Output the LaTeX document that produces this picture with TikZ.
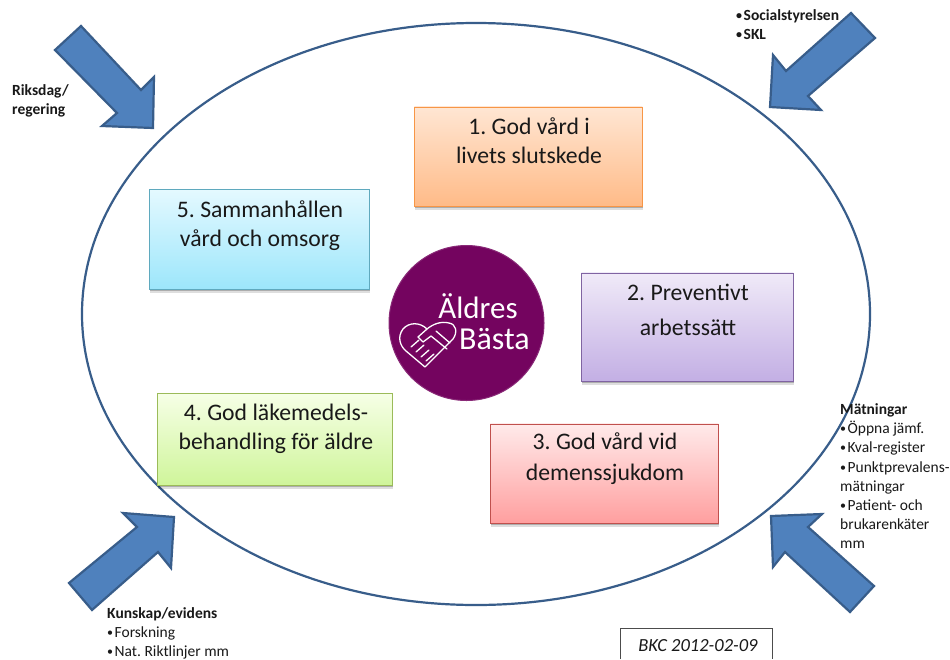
\documentclass[tikz,border=0pt]{standalone}
\usepackage{fontspec}
\setmainfont{Carlito}
\frenchspacing
\usetikzlibrary{shadows,shapes.geometric}
\definecolor{arrowblue}{HTML}{4F81BD}
\definecolor{arrowedge}{HTML}{385D8A}
\definecolor{plum}{HTML}{74045F}
\definecolor{orA}{HTML}{FFE6D3}\definecolor{orB}{HTML}{FFBB88}\definecolor{orE}{HTML}{F79646}
\definecolor{cyA}{HTML}{E4F9FF}\definecolor{cyB}{HTML}{9CE6FB}\definecolor{cyE}{HTML}{5FA9BE}
\definecolor{viA}{HTML}{F0EAF8}\definecolor{viB}{HTML}{C3AFE4}\definecolor{viE}{HTML}{8064A2}
\definecolor{grA}{HTML}{F6FFE6}\definecolor{grB}{HTML}{CFF59A}\definecolor{grE}{HTML}{9BBB59}
\definecolor{reA}{HTML}{FFEAEA}\definecolor{reB}{HTML}{FF9F9F}\definecolor{reE}{HTML}{C0504D}
\newcommand{\bu}{\raisebox{1pt}{\fontsize{12}{12}\selectfont •}\kern1.5pt}
\tikzset{
  bigarrow/.style={fill=arrowblue,draw=arrowedge,line width=2.2pt,line join=miter},
  card/.style={anchor=north west,inner sep=0pt,line width=.9pt,
     drop shadow={shadow xshift=0.3pt,shadow yshift=-4pt,opacity=.13,fill=black},
     drop shadow={shadow xshift=0.3pt,shadow yshift=-2pt,opacity=.22,fill=black}},
  cardtext/.style={align=center,font=\fontsize{23.7}{29}\selectfont,text=black!90},
  note/.style={anchor=north west,inner sep=0pt,align=left,text=black!90,font=\fontsize{15.5}{19.2}\selectfont},
  boldnote/.style={note,font=\bfseries\fontsize{15.5}{19.2}\selectfont},
  badgetext/.style={white},
  icon/.style={white,line width=1.3pt,line cap=round,line join=round},
}
\begin{document}
\begin{tikzpicture}[x=1pt,y=-1pt]
\useasboundingbox (0,0) rectangle (950,659);
\fill[white] (0,0) rectangle (950,659);
% ellipse
\node[draw=arrowedge,line width=2.2pt,ellipse,minimum width=788pt,minimum height=582pt,inner sep=0pt] (oval) at (476,314) {};
% cards
\node[card,minimum width=228pt,minimum height=99pt,draw=orE,top color=orA,bottom color=orB] (c1) at (414,106.5) {};
\node[cardtext] (t1) at (529,141) {1. God vård i\\livets slutskede};
\node[card,minimum width=220pt,minimum height=100pt,draw=cyE,top color=cyA,bottom color=cyB] (c5) at (149,189) {};
\node[cardtext] (t5) at (260,226) {5. Sammanhållen\\vård och omsorg};
\node[card,minimum width=212pt,minimum height=108pt,draw=viE,top color=viA,bottom color=viB] (c2) at (581,272.5) {};
\node[cardtext,font=\fontsize{23.7}{35}\selectfont] (t2) at (688,310) {2. Preventivt\\arbetssätt};
\node[card,minimum width=235pt,minimum height=92pt,draw=grE,top color=grA,bottom color=grB] (c4) at (157,393) {};
\node[cardtext] (t4) at (276,429) {4. God läkemedels-\\behandling för äldre};
\node[card,minimum width=228pt,minimum height=99pt,draw=reE,top color=reA,bottom color=reB] (c3) at (490,423.5) {};
\node[cardtext,font=\fontsize{23.7}{31}\selectfont] (t3) at (605,458.5) {3. God vård vid\\demenssjukdom};
% badge
\node[circle,fill=plum,draw=plum!85!white,line width=1pt,minimum size=155pt,inner sep=0pt] (badge) at (466.5,323) {};
\node[badgetext,font=\fontsize{31}{31}\selectfont] (b1) at (478,306) {Äldres};
\node[badgetext,font=\fontsize{32}{32}\selectfont] (b2) at (494.5,339) {Bästa};
% heart and handshake
\draw[icon] (427,329) .. controls (420,322) and (409,322) .. (403,329) .. controls (397,337) and (400,346) .. (406,351) -- (425,367) -- (453,339) .. controls (458,332) and (456,324) .. (449,323) .. controls (441,321) and (433,324) .. (427,329) -- cycle;
\draw[icon] (427,329) -- (418,337) -- (423,342) -- (431,336) -- (447,349);
\draw[icon] (411,347) -- (419,340) (416,352) -- (424,345) (421,357) -- (429,350) (426,361) -- (434,354);
\draw[icon] (436,331) -- (450,343);
% arrows
\draw[bigarrow] (81,26)--(55,50)--(117,113)--(102,126)--(153,128)--(154,77)--(141,90)--cycle;
\draw[bigarrow] (851,13)--(875,38)--(808,96)--(821,110)--(770,107)--(773,55)--(786,71)--cycle;
\draw[bigarrow] (69,583)--(92,610)--(158,552)--(171,568)--(174,517)--(123,513)--(137,527)--cycle;
\draw[bigarrow] (850,612)--(874,586)--(808,527)--(822,514)--(771,516)--(773,567)--(785,552)--cycle;
% notes
\node[boldnote] (n1) at (12,84.5) {Riksdag/\\regering};
\node[boldnote] (n2) at (736,9) {\bu Socialstyrelsen\\\bu SKL};
\node[note] (n3) at (840,403.5) {\textbf{Mätningar}\\\bu Öppna jämf.\\\bu Kval-register\\\bu Punktprevalens-\\mätningar\\\bu Patient- och\\brukarenkäter\\mm};
\node[note] (n4) at (107,607) {\textbf{Kunskap/evidens}\\\bu Forskning\\\bu Nat. Riktlinjer mm};
\draw[line width=.8pt,black!70] (620,659)--(620,628)--(772,628)--(772,659);
\node[font=\itshape\fontsize{18.5}{20}\selectfont,text=black!90] (bkc) at (698,646) {BKC 2012-02-09};
\end{tikzpicture}
\end{document}
